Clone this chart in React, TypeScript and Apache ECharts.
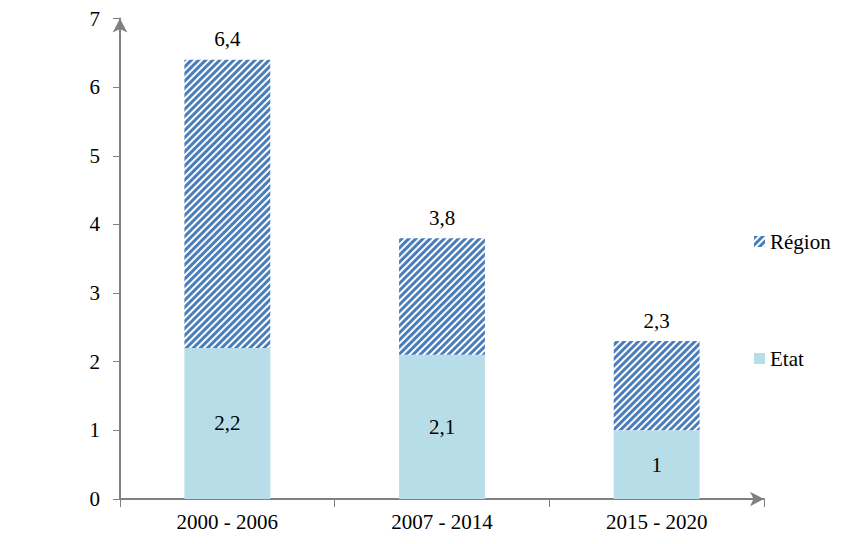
import React, { useEffect, useRef } from "react";
import * as echarts from "echarts";

const categories = ["2000 - 2006", "2007 - 2014", "2015 - 2020"];
const etatValues = [2.2, 2.1, 1];
const regionValues = [4.2, 1.7, 1.3];
const totalValues = [6.4, 3.8, 2.3];
const yTicks = [0, 1, 2, 3, 4, 5, 6, 7];

const FONT = "'Liberation Serif', serif";
const FS = 21;
const fmt = (v: number) => String(v).replace(".", ",");

export default function App() {
  const ref = useRef<HTMLDivElement>(null);
  useEffect(() => {
    if (!ref.current) return;
    const chart = echarts.init(ref.current, null, { renderer: "svg" });
    const decal = {
      symbol: "rect",
      symbolSize: 1,
      color: "#4a7ebb",
      backgroundColor: "#ffffff",
      dashArrayX: [1, 0],
      dashArrayY: [2.4, 1.8],
      rotation: -Math.PI / 4,
    };
    chart.setOption({
      animation: false,
      textStyle: { fontFamily: FONT },
      grid: { left: 112, right: 95, top: 6, bottom: 37, containLabel: false },
      legend: {
        orient: "vertical",
        left: 741,
        top: 218,
        itemGap: 96,
        itemWidth: 11,
        itemHeight: 11,
        icon: "rect",
        textStyle: { fontFamily: FONT, fontSize: FS, color: "#000" },
        data: ["Région", "Etat"],
      },
      xAxis: {
        type: "category",
        data: categories,
        axisLine: {
          show: true,
          lineStyle: { color: "#808080", width: 2 },
          symbol: ["none", "arrow"],
          symbolSize: [11, 14],
        },
        axisTick: { show: true, length: 8, lineStyle: { color: "#808080", width: 1 } },
        axisLabel: { fontFamily: FONT, fontSize: FS, color: "#000", margin: 12 },
      },
      yAxis: {
        type: "value",
        min: 0,
        max: 7,
        interval: 1,
        splitLine: { show: false },
        axisLine: {
          show: true,
          lineStyle: { color: "#808080", width: 2 },
          symbol: ["none", "arrow"],
          symbolSize: [11, 14],
        },
        axisTick: { show: true, length: 7, lineStyle: { color: "#808080", width: 1 } },
        axisLabel: {
          fontFamily: FONT,
          fontSize: FS,
          color: "#000",
          margin: 20,
          formatter: (v: number) => (yTicks.includes(v) ? String(v) : ""),
        },
      },
      series: [
        {
          name: "Etat",
          type: "bar",
          stack: "total",
          barWidth: "40%",
          data: etatValues,
          itemStyle: { color: "#b7dde8" },
          label: {
            show: true,
            position: "inside",
            fontFamily: FONT,
            fontSize: FS,
            color: "#000",
            formatter: (p: any) => fmt(p.value),
          },
        },
        {
          name: "Région",
          type: "bar",
          stack: "total",
          barWidth: "40%",
          data: regionValues,
          itemStyle: { color: "#ffffff", decal },
          label: {
            show: true,
            position: "top",
            distance: 10,
            fontFamily: FONT,
            fontSize: FS,
            color: "#000",
            formatter: (p: any) => fmt(totalValues[p.dataIndex]),
          },
        },
      ],
    });
    return () => chart.dispose();
  }, []);
  return <div ref={ref} style={{ width: 851, height: 528 }} />;
}
